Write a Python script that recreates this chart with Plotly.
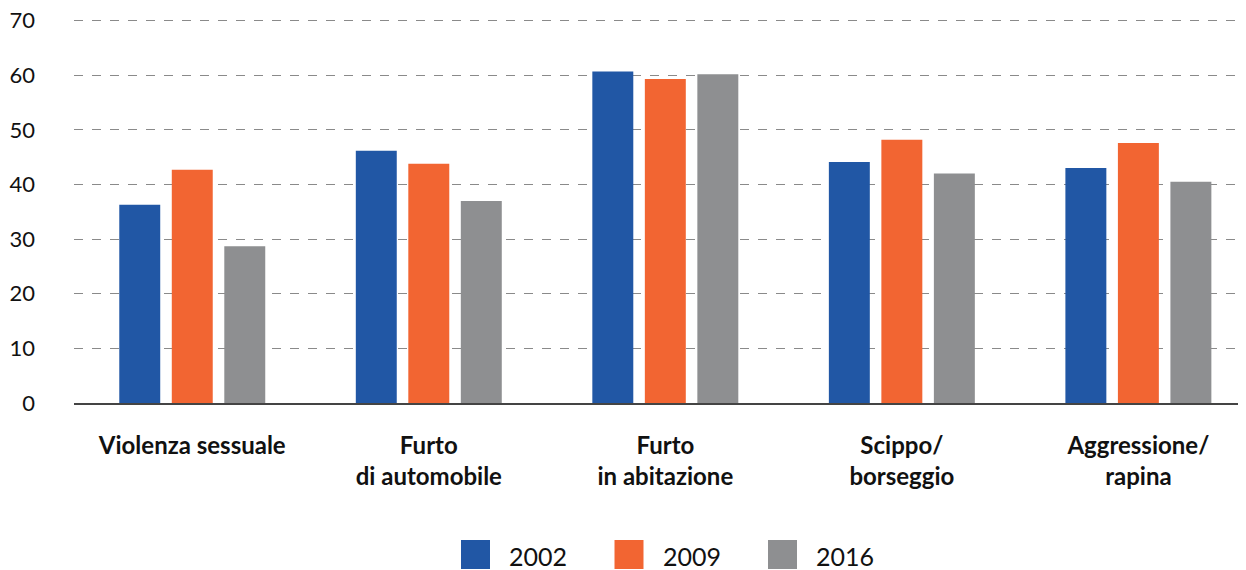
import plotly.graph_objects as go

categories = ['Violenza sessuale', 'Furto<br>di automobile', 'Furto<br>in abitazione',
              'Scippo/<br>borseggio', 'Aggressione/<br>rapina']
years = ['2002', '2009', '2016']
values_2002 = [36.3, 46.2, 60.7, 44.1, 43.0]
values_2009 = [42.7, 43.8, 59.3, 48.2, 47.6]
values_2016 = [28.7, 37.0, 60.2, 42.0, 40.5]
y_ticks = [0, 10, 20, 30, 40, 50, 60, 70]

colors = ['#2157A5', '#F26532', '#8E8F91']
series = [values_2002, values_2009, values_2016]

fig = go.Figure()
for year, vals, col in zip(years, series, colors):
    fig.add_trace(go.Bar(
        x=categories, y=vals, name=year,
        marker=dict(color=col, line=dict(width=0)),
        showlegend=False,
    ))

# hand-made legend: big squares + labels under the plot (pixel offsets from plot corner)
for i, (year, col) in enumerate(zip(years, colors)):
    left = 387 + i * 153.5
    fig.add_shape(type='rect', xref='paper', yref='paper',
                  xsizemode='pixel', ysizemode='pixel', xanchor=0, yanchor=0,
                  x0=left, x1=left + 29, y0=-166, y1=-137,
                  fillcolor=col, line=dict(width=0))
    fig.add_annotation(text=year, xref='paper', yref='paper', x=0, y=0,
                       xanchor='left', yanchor='middle', showarrow=False,
                       xshift=left + 46, yshift=-153,
                       font=dict(size=25, color='#111111'))

font_family = 'Lato, Open Sans, sans-serif'
fig.update_layout(
    width=1238, height=562,
    margin=dict(l=66, r=0, t=11, b=167),
    paper_bgcolor='white', plot_bgcolor='white',
    barmode='group', bargap=0.334, bargroupgap=0.22,
    font=dict(family=font_family, color='#111111'),
    showlegend=False,
)
fig.update_xaxes(
    range=[-0.5, 4.455], automargin=False,
    showline=True, linecolor='#444444', linewidth=2,
    tickfont=dict(size=24, family=font_family, weight='bold'),
    ticks='', ticklabelstandoff=20,
)
fig.update_yaxes(
    range=[0, 70.3], tickvals=y_ticks, automargin=False,
    showgrid=True, gridcolor='#8a8a8a', griddash='dash', gridwidth=1,
    zeroline=False,
    tickfont=dict(size=22, family=font_family),
    ticklabelstandoff=38, ticklabeloverflow='allow',
)

fig.write_html("out.html")
